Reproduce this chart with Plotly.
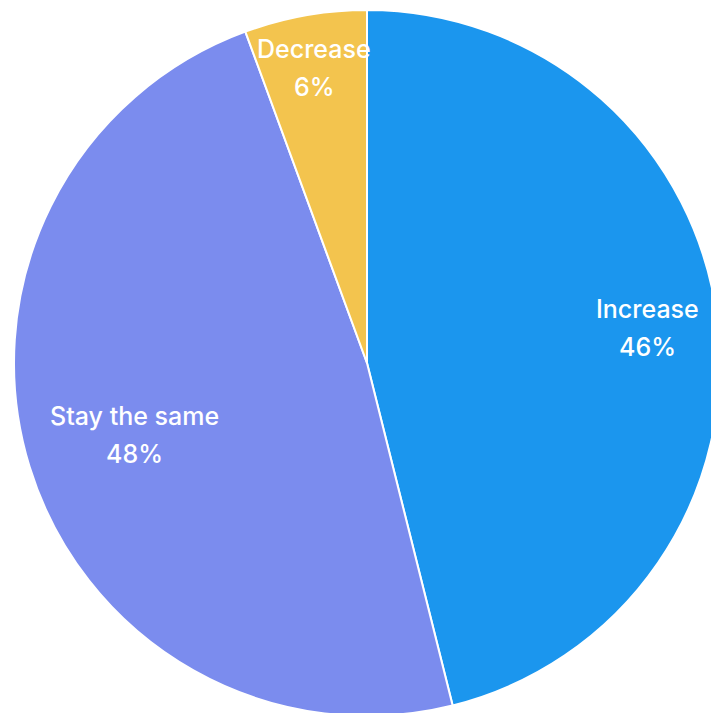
import math
import plotly.graph_objects as go

categories = ["Increase", "Stay the same", "Decrease"]
values = [46.1, 48.3, 5.6]
pct_labels = ["46%", "48%", "6%"]
colors = ["#1B96EE", "#7B8CEE", "#F3C44E"]
# radial placement of each label as a fraction of the radius (style)
label_radius = [0.80, 0.69, 0.85]

fig = go.Figure(go.Pie(
    labels=categories,
    values=values,
    sort=False,
    direction="clockwise",
    rotation=0,
    marker=dict(colors=colors, line=dict(color="white", width=2)),
    textinfo="none",
    showlegend=False,
    hoverinfo="label+percent",
    domain=dict(x=[0, 1], y=[0, 1]),
))

total = sum(values)
cum = 0.0
for cat, v, p, rf in zip(categories, values, pct_labels, label_radius):
    mid = (cum + v / 2) / total * 2 * math.pi
    cum += v
    x = 0.5 + 0.5 * rf * math.sin(mid)
    y = 0.5 + 0.5 * rf * math.cos(mid)
    for txt, shift in ((cat, 19), (p, -19)):
        fig.add_annotation(
            x=x, y=y, xref="paper", yref="paper",
            text=txt, showarrow=False, yshift=shift,
            xanchor="center", yanchor="middle",
            font=dict(family="Inter", size=25, color="white", weight=500),
        )

fig.update_layout(
    width=720, height=716,
    margin=dict(l=14, r=0, t=10, b=0),
    paper_bgcolor="white",
    plot_bgcolor="white",
)

fig.write_html(
    "out.html",
    post_script="document.body.style.overflow='hidden';document.documentElement.style.overflow='hidden';document.body.style.margin='0';",
)
